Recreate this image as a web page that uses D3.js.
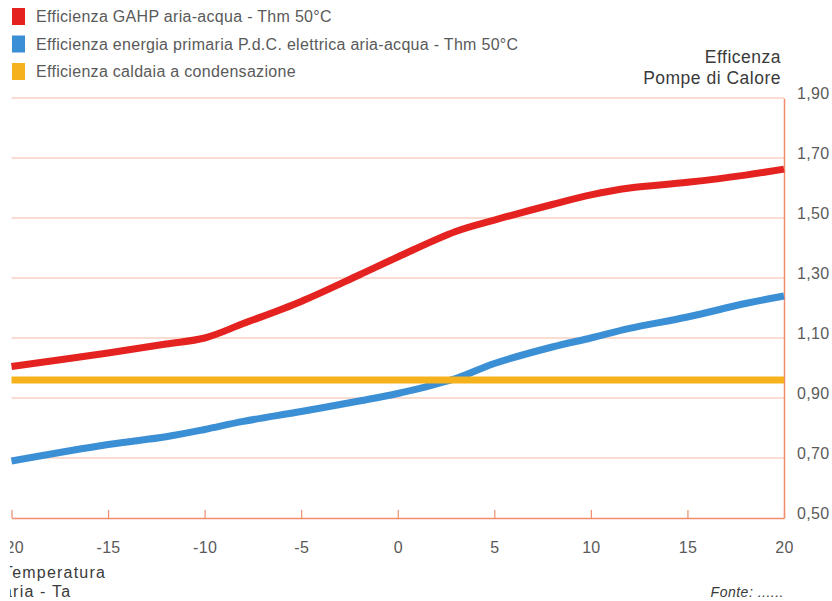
<!DOCTYPE html>
<html>
<head>
<meta charset="utf-8">
<script src="https://cdn.jsdelivr.net/npm/d3@7"></script>
<style>
  html, body { margin: 0; padding: 0; background: #ffffff; }
  svg { display: block; font-family: "Liberation Sans", Arial, Helvetica, sans-serif; }
</style>
</head>
<body>
<svg id="chart" width="832" height="601"></svg>
<script>
// Outdoor air temperature (°C)
const temperature = [-20, -15, -12, -10, -8, -5, -2, 0, 3, 5, 8, 10, 12, 15, 18, 20];
// GAHP air-water efficiency, Thm 50°C
const gahp = [1.005, 1.05, 1.08, 1.1, 1.148, 1.222, 1.31, 1.37, 1.455, 1.493, 1.545, 1.577, 1.6, 1.619, 1.643, 1.663];
// Primary-energy efficiency of the electric air-water heat pump, Thm 50°C
const electric = [0.69, 0.745, 0.771, 0.795, 0.822, 0.855, 0.89, 0.915, 0.965, 1.015, 1.07, 1.10, 1.132, 1.17, 1.215, 1.24];
// Condensing boiler efficiency (constant)
const boiler = [0.96, 0.96];
const boilerTemps = [-20, 20];

const xTicks = [-20, -15, -10, -5, 0, 5, 10, 15, 20];
const yTicks = [0.5, 0.7, 0.9, 1.1, 1.3, 1.5, 1.7, 1.9];

const legendLabels = [
  "Efficienza GAHP aria-acqua - Thm 50°C",
  "Efficienza energia primaria P.d.C. elettrica aria-acqua - Thm 50°C",
  "Efficienza caldaia a condensazione"
];
const colors = ["#e42320", "#3b8fd5", "#f5b21c"];

const svg = d3.select("#chart");

const x = d3.scaleLinear().domain([-20, 20]).range([11.5, 784]);
const y = d3.scaleLinear().domain([0.5, 1.9]).range([518, 98]);

const axisColor = "#ef8d6c";
const gridColor = "#f6b9a4";
const textColor = "#5a5a5a";
const titleColor = "#3a3a3a";

// left edge trim applied to everything
svg.append("defs").append("clipPath").attr("id", "trim")
  .append("rect").attr("x", 10).attr("y", 0).attr("width", 822).attr("height", 601);
const root = svg.append("g").attr("clip-path", "url(#trim)");

// horizontal gridlines
root.append("g").selectAll("line")
  .data(yTicks.filter(v => v > 0.5))
  .join("line")
  .attr("x1", x(-20)).attr("x2", x(20))
  .attr("y1", d => y(d)).attr("y2", d => y(d))
  .attr("stroke", gridColor).attr("stroke-width", 1.2);

// bottom axis with upward ticks
const fmtX = d => String(d);
const xAxis = root.append("g")
  .attr("transform", `translate(0,${y(0.5)})`)
  .call(d3.axisBottom(x).tickValues(xTicks).tickFormat(fmtX).tickSize(-8).tickSizeOuter(0).tickPadding(24));
xAxis.select(".domain").attr("stroke", axisColor).attr("stroke-width", 1.5);
xAxis.selectAll(".tick line").attr("stroke", axisColor).attr("stroke-width", 1.2);
xAxis.selectAll(".tick text").attr("fill", textColor).attr("font-size", 16).attr("letter-spacing", 0.3);

// right axis
const fmtY = d => d3.format(".2f")(d).replace(".", ",");
const yAxis = root.append("g")
  .attr("transform", `translate(${x(20)},0)`)
  .call(d3.axisRight(y).tickValues(yTicks).tickFormat(fmtY).tickSize(0).tickPadding(13));
yAxis.select(".domain").attr("stroke", axisColor).attr("stroke-width", 1.5);
yAxis.selectAll(".tick text").attr("fill", textColor).attr("font-size", 16)
  .attr("letter-spacing", 0.3).attr("dy", "0");

// series lines
const line = d3.line().x(d => x(d[0])).y(d => y(d[1])).curve(d3.curveCatmullRom.alpha(0.5));

root.append("path")
  .datum(d3.zip(temperature, electric))
  .attr("fill", "none").attr("stroke", colors[1]).attr("stroke-width", 7)
  .attr("d", line);

root.append("path")
  .datum(d3.zip(boilerTemps, boiler))
  .attr("fill", "none").attr("stroke", colors[2]).attr("stroke-width", 7)
  .attr("d", line);

root.append("path")
  .datum(d3.zip(temperature, gahp))
  .attr("fill", "none").attr("stroke", colors[0]).attr("stroke-width", 7)
  .attr("d", line);

// legend
const legend = root.append("g");
legendLabels.forEach((label, i) => {
  const row = legend.append("g").attr("transform", `translate(12,${8 + i * 27.5})`);
  row.append("rect").attr("width", 13).attr("height", 17).attr("fill", colors[i]);
  row.append("text").attr("x", 24).attr("y", 14).attr("fill", textColor)
    .attr("font-size", 16).attr("letter-spacing", 0.3).text(label);
});

// y axis title
root.append("text").attr("x", 781).attr("y", 63).attr("text-anchor", "end")
  .attr("fill", titleColor).attr("font-size", 17.5).attr("letter-spacing", 0.5).text("Efficenza");
root.append("text").attr("x", 781).attr("y", 84).attr("text-anchor", "end")
  .attr("fill", titleColor).attr("font-size", 17.5).attr("letter-spacing", 0.5).text("Pompe di Calore");

// x axis title
root.append("text").attr("x", 3).attr("y", 578).attr("fill", titleColor)
  .attr("font-size", 16).attr("letter-spacing", 1.2).text("Temperatura");
root.append("text").attr("x", 3).attr("y", 597).attr("fill", titleColor)
  .attr("font-size", 16).attr("letter-spacing", 1.2).text("aria - Ta");

// source note
root.append("text").attr("x", 784).attr("y", 597).attr("text-anchor", "end")
  .attr("fill", titleColor).attr("font-size", 14).attr("letter-spacing", 0.5)
  .attr("font-style", "italic").text("Fonte: ......");
</script>
</body>
</html>
